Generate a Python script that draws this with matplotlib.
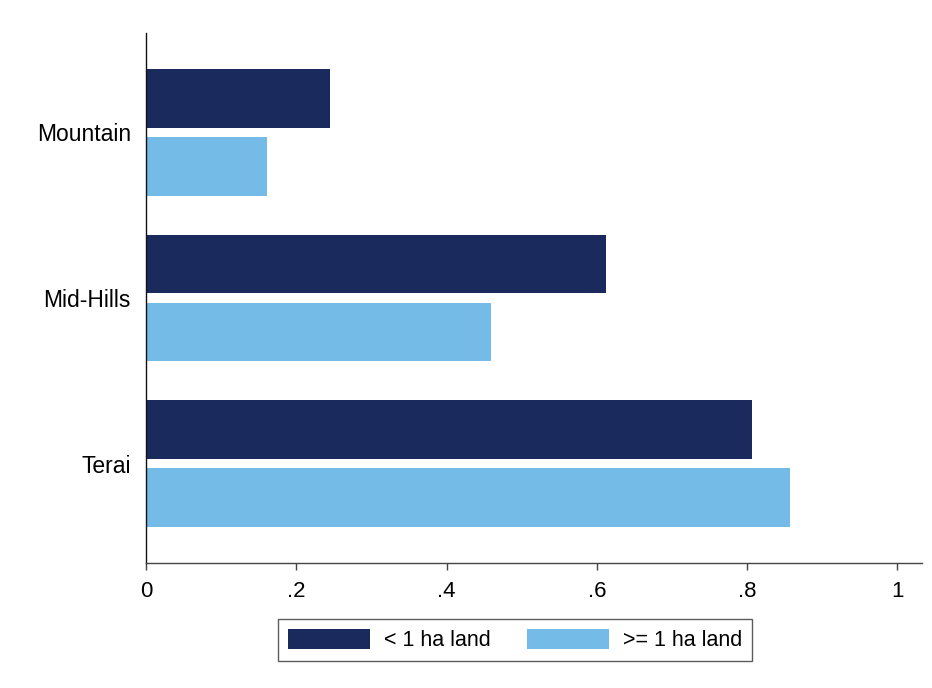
import matplotlib
matplotlib.use("Agg")
import matplotlib.pyplot as plt
import numpy as np

plt.rcParams['font.family'] = ['Liberation Sans', 'DejaVu Sans']

regions = ["Mountain", "Mid-Hills", "Terai"]
small_land = [0.245, 0.6125, 0.807]   # < 1 ha land
large_land = [0.161, 0.459, 0.857]    # >= 1 ha land
series_labels = ["< 1 ha land", ">= 1 ha land"]
xticks = [0, 0.2, 0.4, 0.6, 0.8, 1.0]
xtick_labels = ["0", ".2", ".4", ".6", ".8", "1"]

dark = "#1b2a5c"
light = "#74bbe8"

fig = plt.figure(figsize=(9.32, 6.88), dpi=100)
ax = fig.add_axes([0.1567, 0.1817, 0.9893 - 0.1567, 0.952 - 0.1817])

y = np.arange(len(regions))
h = 0.355
off = 0.205
b1 = ax.barh(y - off, small_land, height=h, color=dark, label=series_labels[0])
b2 = ax.barh(y + off, large_land, height=h, color=light, label=series_labels[1])

ax.set_ylim(2.6, -0.6)
ax.set_xlim(0, 1.033)
ax.set_yticks(y)
ax.set_yticklabels(regions, fontsize=16.5)
ax.tick_params(axis='y', length=0, pad=11)
ax.set_xticks(xticks)
ax.set_xticklabels(xtick_labels, fontsize=16)
ax.tick_params(axis='x', length=5, width=1, color="#444444", pad=8)

for s in ["top", "right"]:
    ax.spines[s].set_visible(False)
ax.spines["left"].set_color("#111111")
ax.spines["bottom"].set_color("#444444")
ax.spines["left"].set_linewidth(1.0)
ax.spines["bottom"].set_linewidth(1.0)

leg = fig.legend(handles=[b1, b2], labels=series_labels, loc="center",
                 bbox_to_anchor=(515 / 932, 1 - 640 / 688), ncol=2,
                 fontsize=15.5, frameon=True, fancybox=False,
                 edgecolor="#333333", handlelength=3.8, handleheight=1.1,
                 handletextpad=0.65, columnspacing=1.7, borderpad=0.45,
                 borderaxespad=0)
leg.get_frame().set_linewidth(1.0)

fig.savefig("out.png", dpi=100)
